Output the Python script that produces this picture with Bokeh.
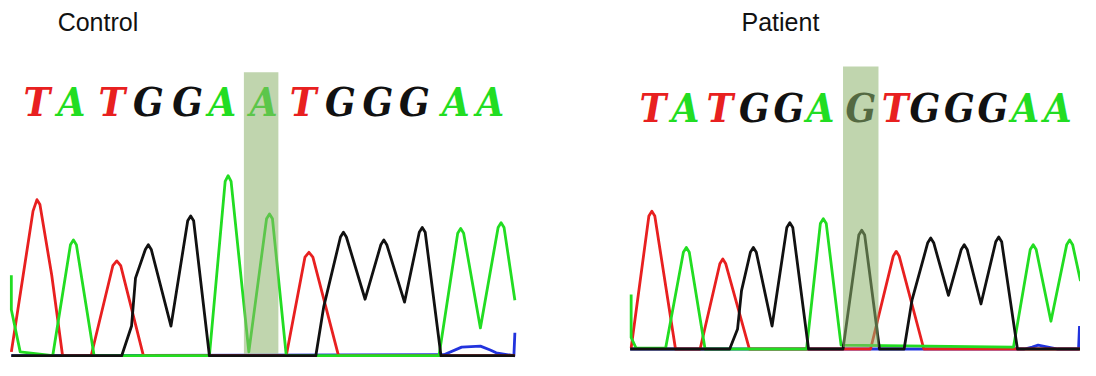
from bokeh.plotting import figure
from bokeh.layouts import row
from bokeh.models import Range1d
from bokeh.core.properties import value
from bokeh.embed import file_html
from bokeh.resources import INLINE

# ---------------- data (scan position, signal intensity) ----------------
control_bases = ["T", "A", "T", "G", "G", "A", "A", "T", "G", "G", "G", "A", "A"]
control_call_pos = [26, 61, 102, 139, 179, 214, 256, 296, 334, 372, 409, 451, 486]
patient_bases = ["T", "A", "T", "G", "G", "A", "G", "T", "G", "G", "G", "A", "A"]
patient_call_pos = [23, 56, 91, 126, 161, 193, 234, 269, 299, 334, 368, 401, 434]

# Control traces
c_red_x = [0, 12, 22, 26, 29, 41, 52, 81, 103, 107, 111, 134, 279, 298, 302, 306, 332, 511]
c_red_y = [4, 84, 151, 163, 158, 84, 0, 0, 94, 99, 94, 0, 0, 103, 108, 103, 0, 0]
c_green_x = [0, 0, 9, 42, 60, 63, 66, 84, 201, 217, 220, 223, 241, 259, 262, 265, 279,
             434, 453, 456, 459, 476, 494, 497, 500, 511]
c_green_y = [84, 48, 4, 0, 116, 121, 116, 0, 0, 182, 188, 182, 4, 143, 148, 143, 0,
             0, 128, 133, 128, 29, 134, 139, 134, 58]
c_black_x = [0, 112, 122, 126, 136, 139, 142, 162, 179, 182, 185, 201, 309, 317, 334, 337, 340,
             359, 375, 378, 381, 399, 414, 417, 420, 436, 511]
c_black_y = [0, 0, 31, 81, 111, 116, 111, 31, 141, 146, 141, 0, 0, 51, 124, 129, 124,
             59, 116, 121, 116, 56, 129, 134, 129, 0, 0]
c_blue_x = [0, 20, 439, 457, 476, 486, 492, 510, 511]
c_blue_y = [0, 0, 1, 9, 10, 6, 3, 0, 24]
c_mark_x = [236, 271]
c_mark_top = 296

# Patient traces
p_red_x = [1, 19, 22, 25, 46, 71, 91, 94, 97, 121, 244, 267, 270, 273, 298, 457]
p_red_y = [1, 139, 144, 139, 0, 0, 89, 94, 89, 0, 0, 97, 102, 97, 0, 0]
p_green_x = [1, 1, 6, 36, 54, 57, 60, 76, 179, 193, 196, 199, 214, 389, 406, 409, 412,
             427, 443, 446, 449, 457]
p_green_y = [57, 12, 1, 1, 101, 106, 101, 0, 0, 131, 136, 131, 4, 2, 104, 109, 104,
             29, 109, 114, 109, 71]
p_black_x = [0, 101, 109, 113, 122, 125, 128, 144, 159, 162, 165, 181, 216, 232, 235, 238,
             253, 278, 286, 302, 305, 308, 323, 336, 339, 342, 356, 371, 374, 377, 393, 457]
p_black_y = [0, 0, 21, 61, 101, 106, 101, 24, 127, 132, 127, 0, 0, 119, 124, 119,
             0, 0, 51, 111, 116, 111, 56, 104, 109, 104, 47, 112, 117, 112, 0, 0]
p_blue_x = [0, 400, 408, 414, 434, 455, 456]
p_blue_y = [0, 0, 2, 4, 0, 0, 24]
p_mark_x = [216, 252]
p_mark_top = 295

BASE_COLORS = {"A": "#22dd22", "C": "#2233dd", "G": "#111111", "T": "#e82020"}
TRACE_W = 2.8
LETTER_FONT = value("DejaVu Serif Condensed, DejaVu Serif, serif")


def panel(title, title_x, title_y, width, xr, yr, traces, bases, calls, letter_y, mark_x, mark_top):
    p = figure(width=width, height=360, x_range=Range1d(*xr), y_range=Range1d(*yr),
               toolbar_location=None, output_backend="svg", min_border=0,
               background_fill_color="white", border_fill_color="white")
    p.axis.visible = False
    p.xgrid.visible = False
    p.ygrid.visible = False
    p.outline_line_color = None

    for xs, ys, col in traces:
        p.line(xs, ys, line_color=col, line_width=TRACE_W, line_join="round")

    p.text(x=calls, y=[letter_y] * len(calls), text=bases,
           text_color=[BASE_COLORS[b] for b in bases],
           text_font=LETTER_FONT, text_font_style="bold italic",
           text_font_size="40px", text_align="center", text_baseline="middle")

    p.quad(left=[mark_x[0]], right=[mark_x[1]], bottom=[2], top=[mark_top],
           fill_color="#8db36b", fill_alpha=0.55, line_color=None)

    p.text(x=[title_x], y=[title_y], text=[title], text_color="#111111",
           text_font=value("Liberation Sans"), text_font_size="25px",
           text_align="left", text_baseline="middle")
    return p


control = panel("Control", 47, 349, 560, (-11, 557.3), (-5, 371),
                [(c_blue_x, c_blue_y, BASE_COLORS["C"]),
                 (c_red_x, c_red_y, BASE_COLORS["T"]),
                 (c_green_x, c_green_y, BASE_COLORS["A"]),
                 (c_black_x, c_black_y, BASE_COLORS["G"])],
                control_bases, control_call_pos, 265, c_mark_x, c_mark_top)

patient = panel("Patient", 113, 342, 520, (-70.7, 457), (-12, 364),
                [(p_blue_x, p_blue_y, BASE_COLORS["C"]),
                 (p_red_x, p_red_y, BASE_COLORS["T"]),
                 (p_green_x, p_green_y, BASE_COLORS["A"]),
                 (p_black_x, p_black_y, BASE_COLORS["G"])],
                patient_bases, patient_call_pos, 252, p_mark_x, p_mark_top)

layout = row(control, patient)
open("out.html", "w").write(file_html(layout, INLINE))
